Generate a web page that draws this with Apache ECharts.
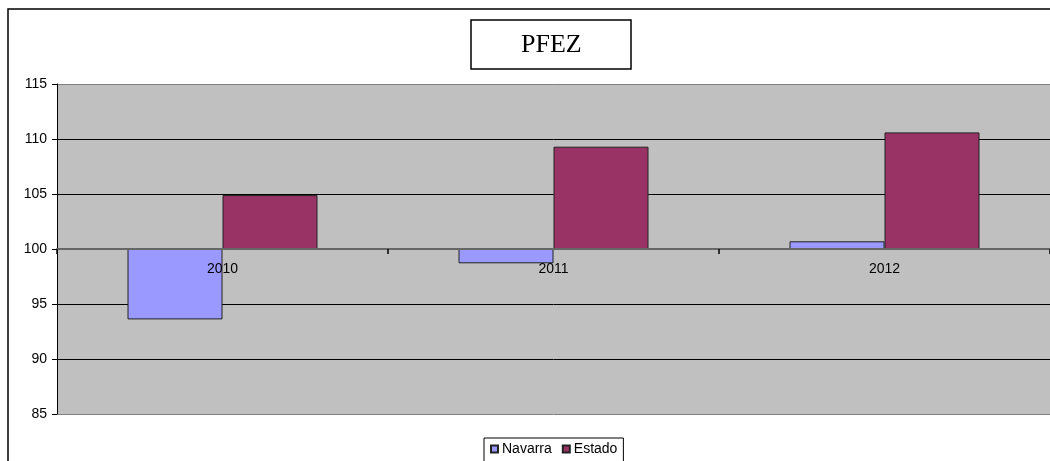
<!DOCTYPE html>
<html>
<head>
<meta charset="utf-8">
<script src="https://cdn.jsdelivr.net/npm/echarts@6/dist/echarts.min.js"></script>
<style>
  html, body { margin: 0; padding: 0; background: #fff; }
  #chart { width: 1050px; height: 461px; }
</style>
</head>
<body>
<div id="chart"></div>
<script>
  // PFEZ - indices (base 100)
  var years = ['2010', '2011', '2012'];
  var navarra = [93.6, 98.7, 100.7];
  var estado = [104.9, 109.3, 110.6];
  var yTicks = [85, 90, 95, 100, 105, 110, 115];
  var base = 100; // el eje horizontal cruza en 100

  var myChart = echarts.init(document.getElementById('chart'));

  // las barras salen de 100, asi que se dibujan como diferencia respecto a la base
  function fromBase(arr) {
    return arr.map(function (v) { return +(v - base).toFixed(2); });
  }

  var option = {
    animation: false,
    textStyle: { fontFamily: 'Liberation Sans, Arial, sans-serif' },
    graphic: [{
      type: 'rect',
      shape: { x: 8, y: 9, width: 1100, height: 500 },
      style: { fill: 'none', stroke: '#000', lineWidth: 1.5 },
      silent: true
    }],
    title: {
      text: 'PFEZ',
      left: 471,
      top: 20,
      padding: [12, 50, 11, 50],
      borderColor: '#000',
      borderWidth: 1.5,
      textStyle: {
        fontFamily: 'Liberation Serif, Times New Roman, serif',
        fontWeight: 'normal',
        fontSize: 26,
        color: '#000'
      }
    },
    legend: {
      data: ['Navarra', 'Estado'],
      left: 484,
      top: 438,
      padding: [4, 6, 20, 6],
      borderColor: '#000',
      borderWidth: 1,
      icon: 'rect',
      itemWidth: 7,
      itemHeight: 7,
      itemGap: 10,
      textStyle: { fontSize: 14, color: '#000', padding: [0, 0, 0, -1] }
    },
    grid: {
      left: 57,
      right: 0,
      top: 84,
      bottom: 47,
      show: true,
      backgroundColor: '#c0c0c0',
      borderWidth: 0
    },
    xAxis: {
      type: 'category',
      data: years,
      position: 'bottom',
      offset: -165, // sube el eje hasta el valor 100
      z: 5,
      axisLine: { onZero: false, lineStyle: { color: '#666', width: 2 } },
      axisTick: { show: true, length: 5, lineStyle: { color: '#000', width: 1.5 } },
      axisLabel: { color: '#000', fontSize: 14, margin: 13 },
      splitLine: { show: false }
    },
    yAxis: {
      type: 'value',
      min: yTicks[0] - base,
      max: yTicks[yTicks.length - 1] - base,
      interval: 5,
      axisLine: { show: true, lineStyle: { color: '#000', width: 1 } },
      axisTick: { show: true, length: 5, lineStyle: { color: '#000' } },
      axisLabel: {
        color: '#000',
        fontSize: 14,
        margin: 10,
        formatter: function (v) { return v + base; }
      },
      splitLine: {
        show: true,
        lineStyle: {
          color: ['#808080', '#000', '#000', '#808080', '#000', '#000', '#808080'],
          width: 1
        }
      }
    },
    series: [{
      name: 'Navarra',
      type: 'bar',
      data: fromBase(navarra),
      barWidth: 95,
      barGap: '0%',
      itemStyle: { color: '#9999ff', borderColor: '#222', borderWidth: 1 }
    }, {
      name: 'Estado',
      type: 'bar',
      data: fromBase(estado),
      barWidth: 95,
      barGap: '0%',
      itemStyle: { color: '#993366', borderColor: '#222', borderWidth: 1 }
    }]
  };

  myChart.setOption(option);
  window.addEventListener('resize', function () {
    myChart.resize();
  });
</script>
</body>
</html>
